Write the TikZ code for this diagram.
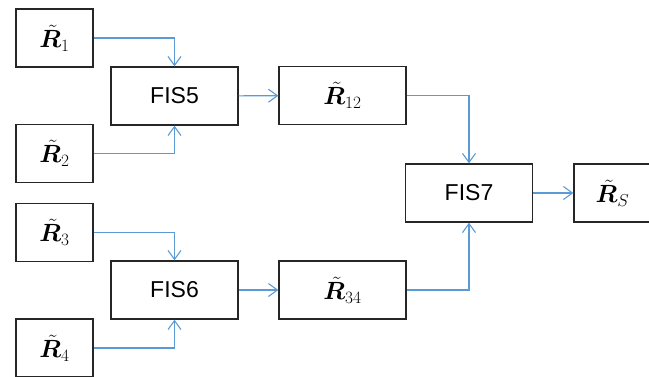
\documentclass[tikz,border=0pt]{standalone}
\usepackage{amsmath}
\usepackage{bm}
\usepackage{fontspec}
\setsansfont{Liberation Sans}
\usetikzlibrary{arrows.meta}
\definecolor{linkblue}{RGB}{91,155,213}
\newcommand{\rt}[1]{$\tilde{\bm{R}}_{#1}$}
\tikzset{
  box/.style={draw=black!85, line width=1.3pt, rectangle, inner sep=0pt,
              minimum height=58pt},
  rlabel/.style={font=\fontsize{24}{28}\selectfont},
  inbox/.style={box, rlabel, minimum width=77pt},
  wide/.style={box, minimum width=127pt},
  fis/.style={wide, font=\sffamily\fontsize{23}{27}\selectfont},
  link/.style={draw=linkblue, line width=1.1pt,
               -{Straight Barb[length=9pt,width=13pt,line width=1.1pt]}}
}
\begin{document}
\begin{tikzpicture}[x=1pt,y=-1pt]
  \useasboundingbox (0,0) rectangle (649,376);
  \clip (0,0) rectangle (649,376);
  % input boxes
  \node[inbox] (r1) at (54.5,38)    {\rt{1}};
  \node[inbox] (r2) at (54.5,153.5) {\rt{2}};
  \node[inbox] (r3) at (54.5,232.5) {\rt{3}};
  \node[inbox] (r4) at (54.5,348)   {\rt{4}};
  % inference systems
  \node[fis] (f5) at (174.5,96)  {FIS5};
  \node[fis] (f6) at (174.5,290) {FIS6};
  \node[fis] (f7) at (469,193)   {FIS7};
  % intermediate and final outputs
  \node[wide, rlabel] (r12) at (342.5,95.5) {\rt{12}};
  \node[wide, rlabel] (r34) at (342.5,290)  {\rt{34}};
  \node[inbox] (rs) at (612.5,193) {\rt{S}};
  % connectors
  \draw[link] (r1.east) -| (f5.north);
  \draw[link] (r2.east) -| (f5.south);
  \draw[link] (r3.east) -| (f6.north);
  \draw[link] (r4.east) -| (f6.south);
  \draw[link] (f5) -- (r12);
  \draw[link] (f6) -- (r34);
  \draw[link] (r12.east) -| (f7.north);
  \draw[link] (r34.east) -| (f7.south);
  \draw[link] (f7) -- (rs);
\end{tikzpicture}
\end{document}
